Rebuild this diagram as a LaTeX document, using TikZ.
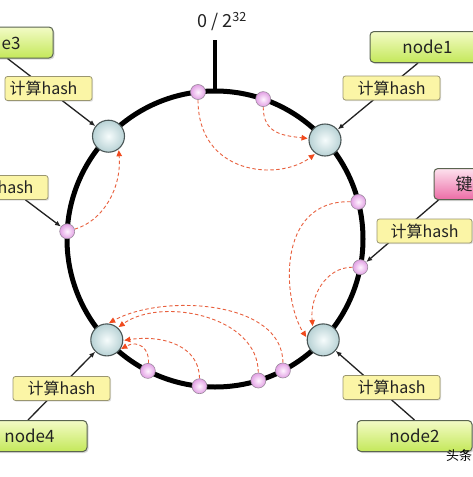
\documentclass[tikz,border=0pt]{standalone}
\usepackage{fontspec}
\setmainfont{Noto Sans CJK SC}
\usetikzlibrary{arrows.meta,shadows}
\definecolor{txt}{HTML}{222222}
\definecolor{gtop}{HTML}{F3FBC6}
\definecolor{gbot}{HTML}{C4E85A}
\definecolor{gline}{HTML}{5A6450}
\definecolor{yfill}{HTML}{FBF5A6}
\definecolor{yline}{HTML}{9A9670}
\definecolor{ktop}{HTML}{FDE2EE}
\definecolor{kbot}{HTML}{EC6CA6}
\definecolor{ringin}{HTML}{F6FCFC}
\definecolor{ringout}{HTML}{B8D2D5}
\definecolor{ringline}{HTML}{4A5656}
\definecolor{pinkin}{HTML}{FFF4FF}
\definecolor{pinkout}{HTML}{E2A0E4}
\definecolor{pinkline}{HTML}{9A8A9C}
\definecolor{redline}{HTML}{E8603E}
\definecolor{redhead}{HTML}{F04A1E}
\pgfdeclarelayer{bg}
\pgfsetlayers{bg,main}
\begin{document}
\begin{tikzpicture}[x=1pt,y=-1pt,
  greenbox/.style={draw=gline, line width=1pt, rounded corners=4pt,
    top color=gtop, bottom color=gbot, minimum width=115pt, minimum height=31pt,
    inner sep=0pt, text=txt, font=\fontsize{17}{17}\selectfont,
    drop shadow={shadow xshift=1.5pt, shadow yshift=-1.5pt, opacity=0.3}},
  keybox/.style={greenbox, top color=ktop, bottom color=kbot},
  hashbox/.style={draw=yline, line width=0.8pt, rounded corners=2.5pt,
    fill=yfill, minimum width=97pt, minimum height=24pt, inner sep=0pt,
    text=txt, font=\fontsize{16}{16}\selectfont,
    drop shadow={shadow xshift=1.2pt, shadow yshift=-1.2pt, opacity=0.25}},
  ringnode/.style={circle, draw=ringline, line width=1.1pt, minimum size=32pt,
    inner sep=0pt, inner color=ringin, outer color=ringout},
  pinknode/.style={circle, draw=pinkline, line width=0.6pt, minimum size=15pt,
    inner sep=0pt, inner color=pinkin, outer color=pinkout},
  conn/.style={draw=txt, line width=1.3pt, -{Latex[length=6pt,width=5pt]}},
  redarrow/.style={draw=redline, line width=0.9pt, dash pattern=on 3.5pt off 2.5pt,
    -{Triangle[length=6pt,width=5.5pt,fill=redhead,color=redhead]}, shorten >=1pt}
]
\useasboundingbox (0,0) rectangle (473,477);
\clip (0,0) rectangle (473,477);

\coordinate (O) at (215,239);
\coordinate (tk) at (215,40);
\coordinate (rtop) at (215,91);

% ring nodes
\node[ringnode] (N3) at (108.5,136.2) {};
\node[ringnode] (N1) at (325,140) {};
\node[ringnode] (N4) at (106.8,339.9) {};
\node[ringnode] (N2) at (323.2,339.9) {};

% key positions
\node[pinknode] (pA) at (198,92) {};
\node[pinknode] (pB) at (263.2,99.1) {};
\node[pinknode] (pL) at (67.2,231.3) {};
\node[pinknode] (pR1) at (358.3,201.9) {};
\node[pinknode] (pR2) at (360.3,267.2) {};
\node[pinknode] (pB1) at (282.9,370.5) {};
\node[pinknode] (pB2) at (258.3,380.5) {};
\node[pinknode] (pB3) at (147.8,370.9) {};
\node[pinknode] (pB4) at (199.5,386.2) {};

% top label
\node[text=txt, font=\fontsize{18}{18}\selectfont, inner sep=0pt] (zero) at (222,21.5) {0 / 2\textsuperscript{32}};

% green boxes
\node[greenbox] (n1) at (427.5,47) {node1};
\node[greenbox] (n2) at (414.5,436) {node2};
\node[greenbox] (n3) at (-4.5,42.5) {node3};
\node[greenbox] (n4) at (29.5,436) {node4};
\node[keybox] (key) at (491.5,184) {\makebox[100pt][l]{\hspace*{14pt}键}};

% hash boxes
\node[hashbox, minimum width=87pt] (h3) at (48.5,88.5) {计算hash\hspace*{10pt}};
\node[hashbox] (h1) at (391.5,88) {计算hash};
\node[hashbox] (h6) at (-0.5,187.5) {计算hash};
\node[hashbox, minimum width=95pt] (h5) at (424.5,231) {计算hash};
\node[hashbox] (h4) at (61.5,388.5) {计算hash};
\node[hashbox] (h2) at (391.5,387.5) {计算hash};

% watermark
\node[anchor=west, text=black, font=\fontsize{13}{13}\selectfont, inner sep=0pt] (wm) at (446,456) {头条};

\begin{pgfonlayer}{bg}
  \fill[white] (0,0) rectangle (473,477);
  \draw[line width=5pt, black] (O) circle[radius=148pt];
  \draw[line width=4pt, black] (tk) -- (rtop);
  % connectors
  \draw[conn] ([xshift=12pt]n3.south) -- (N3);
  \draw[conn] ([xshift=-9.5pt]n1.south) -- (N1);
  \draw[conn] ([xshift=5pt]key.south west) -- (pR2);
  \draw[conn] ([xshift=26pt]h6.south) -- (pL);
  \draw[conn] ([xshift=-1.5pt]n4.north) -- (N4);
  \draw[conn] (n2.north) -- (N2);
  % dashed arrows
  \draw[redarrow] (pB) .. controls +(0,35) and +(-25,-3) .. (N1.175);
  \draw[redarrow] (pA) .. controls +(0,83) and +(-37,28) .. (N1.235);
  \draw[redarrow] (pL) .. controls +(35,-10) and +(3,40) .. (N3.-52);
  \draw[redarrow] (pR1) .. controls +(-83,-2) and +(-24,-37) .. (N2.173);
  \draw[redarrow] (pR2) .. controls +(-35,0) and +(-3,-30) .. (N2.129);
  \draw[redarrow] (pB3) .. controls +(2,-22) and +(18,-10) .. (N4.-35);
  \draw[redarrow] (pB4) .. controls +(0,-40) and +(40,-6) .. (N4.-2);
  \draw[redarrow] (pB2) .. controls +(0,-65) and +(43,-31) .. (N4.48);
  \draw[redarrow] (pB1) .. controls +(0,-70) and +(55,-30) .. (N4.85);
\end{pgfonlayer}
\end{tikzpicture}
\end{document}
